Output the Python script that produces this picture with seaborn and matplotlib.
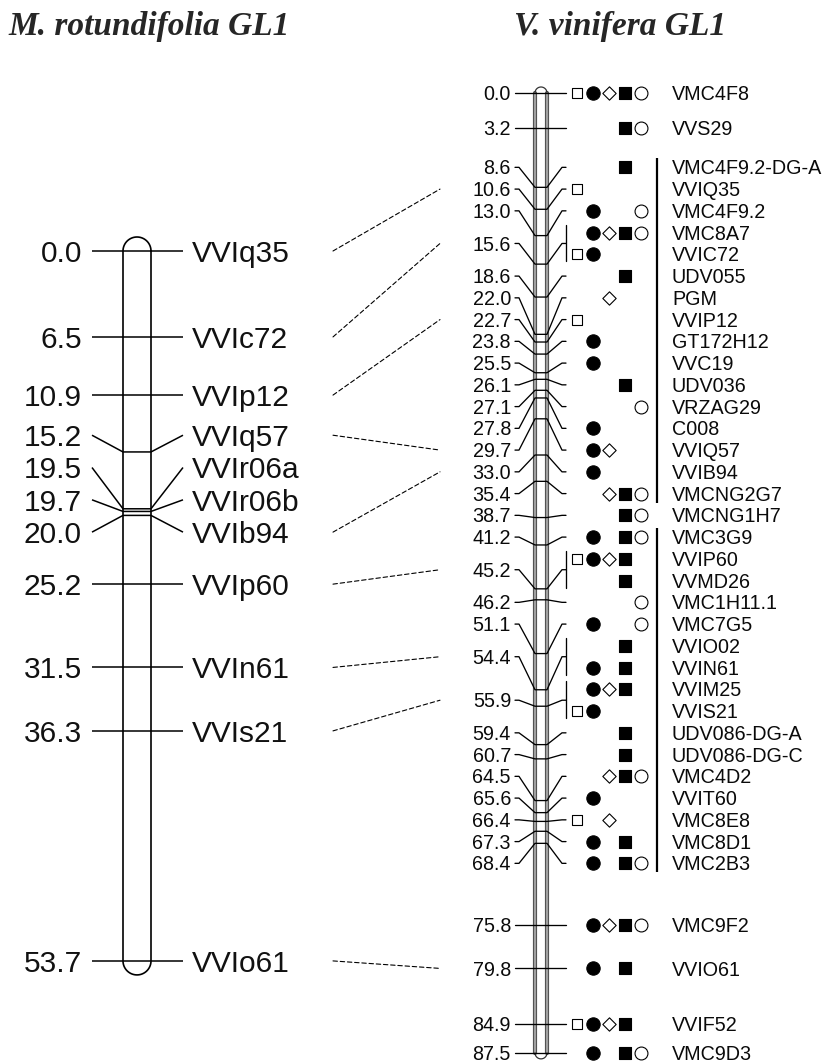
import numpy as np
import pandas as pd
import matplotlib
matplotlib.use("Agg")
import matplotlib.pyplot as plt
import matplotlib.patheffects as pe
from matplotlib.patches import ConnectionPatch
import seaborn as sns

# ---------------- data ----------------
left_title = "M. rotundifolia GL1"
right_title = "V. vinifera GL1"

left_markers = ["VVIq35", "VVIc72", "VVIp12", "VVIq57", "VVIr06a", "VVIr06b",
                "VVIb94", "VVIp60", "VVIn61", "VVIs21", "VVIo61"]
left_cm = [0.0, 6.5, 10.9, 15.2, 19.5, 19.7, 20.0, 25.2, 31.5, 36.3, 53.7]

right_markers = ["VMC4F8", "VVS29", "VMC4F9.2-DG-A", "VVIQ35", "VMC4F9.2", "VMC8A7",
                 "VVIC72", "UDV055", "PGM", "VVIP12", "GT172H12", "VVC19", "UDV036",
                 "VRZAG29", "C008", "VVIQ57", "VVIB94", "VMCNG2G7", "VMCNG1H7", "VMC3G9",
                 "VVIP60", "VVMD26", "VMC1H11.1", "VMC7G5", "VVIO02", "VVIN61", "VVIM25",
                 "VVIS21", "UDV086-DG-A", "UDV086-DG-C", "VMC4D2", "VVIT60", "VMC8E8",
                 "VMC8D1", "VMC2B3", "VMC9F2", "VVIO61", "VVIF52", "VMC9D3"]
right_cm = [0.0, 3.2, 8.6, 10.6, 13.0, 15.6,
            15.6, 18.6, 22.0, 22.7, 23.8, 25.5, 26.1,
            27.1, 27.8, 29.7, 33.0, 35.4, 38.7, 41.2,
            45.2, 45.2, 46.2, 51.1, 54.4, 54.4, 55.9,
            55.9, 59.4, 60.7, 64.5, 65.6, 66.4,
            67.3, 68.4, 75.8, 79.8, 84.9, 87.5]
# populations in which the marker was mapped:
# open square, filled circle, open diamond, filled square, open circle
right_pops = ["11111", "00011", "00010", "10000", "01001", "01111",
              "11000", "00010", "00100", "10000", "01000", "01000", "00010",
              "00001", "01000", "01100", "01000", "00111", "00011", "01011",
              "11110", "00010", "00001", "01001", "00010", "01010", "01110",
              "11000", "00010", "00010", "00111", "01000", "10100",
              "01010", "01011", "01111", "01010", "11110", "01011"]

right_groups = [("VMC4F9.2-DG-A", "VMCNG2G7"), ("VMC3G9", "VMC2B3")]

links = [("VVIq35", "VVIQ35"), ("VVIc72", "VVIC72"), ("VVIp12", "VVIP12"),
         ("VVIq57", "VVIQ57"), ("VVIb94", "VVIB94"), ("VVIp60", "VVIP60"),
         ("VVIn61", "VVIN61"), ("VVIs21", "VVIS21"), ("VVIo61", "VVIO61")]

# ---------------- layout ----------------
W, H = 823, 1063
L_TOP, L_SCALE = 251.0, 13.22     # pixel row of 0 cM, pixels per cM (left map)
R_TOP, R_SCALE = 93.0, 10.97      # right map
L_GAP = 32.3 / L_SCALE            # minimal label spacing (cM)
R_GAP = 21.75 / R_SCALE

sns.set_theme(style="white")
plt.rcParams["font.family"] = ["Liberation Sans", "DejaVu Sans"]

fig = plt.figure(figsize=(W / 100, H / 100), dpi=100)
fig.patch.set_facecolor("white")


def make_axes(top, scale):
    ax = fig.add_axes([0, 0, 1, 1])
    ax.set_xlim(0, W)
    ax.set_ylim((H - top) / scale, -top / scale)
    ax.axis("off")
    ax.patch.set_alpha(0)
    return ax


axL = make_axes(L_TOP, L_SCALE)
axR = make_axes(R_TOP, R_SCALE)


def spread(vals, gap):
    order = sorted(range(len(vals)), key=lambda i: vals[i])
    groups = [[i] for i in order]

    def place(g):
        c = (vals[g[0]] + vals[g[-1]]) / 2
        n = len(g)
        return [c + (k - (n - 1) / 2) * gap for k in range(n)]

    changed = True
    while changed:
        changed = False
        for j in range(len(groups) - 1):
            a, b = place(groups[j]), place(groups[j + 1])
            if b[0] - a[-1] < gap - 1e-9:
                groups[j] = groups[j] + groups[j + 1]
                del groups[j + 1]
                changed = True
                break
    out = [0.0] * len(vals)
    for g in groups:
        for i, y in zip(g, place(g)):
            out[i] = y
    return out


def capsule(x0, x1, top, bot, scale, n=40):
    r = (x1 - x0) / 2
    cx = (x0 + x1) / 2
    t = np.linspace(0, np.pi, n)
    xs = np.concatenate([cx + r * np.cos(t), cx - r * np.cos(t), [x1]])
    ys = np.concatenate([top - r * np.sin(t) / scale, bot + r * np.sin(t) / scale, [top]])
    return xs, ys


# ---------------- left map ----------------
LX_NUM, LX_L0, LX_B0, LX_B1, LX_R1, LX_NAME = 82, 92, 123, 151, 183, 192
L_FS = 21.5
L_BASE = 0.36 * L_FS / 0.72 / L_SCALE

xs, ys = capsule(LX_B0, LX_B1, min(left_cm), max(left_cm), L_SCALE)
axL.fill(xs, ys, color="white", zorder=1)
axL.plot(xs, ys, color="black", lw=1.2, zorder=3)

left_lab = spread(left_cm, L_GAP)
for name, cm, ly in zip(left_markers, left_cm, left_lab):
    axL.plot([LX_L0, LX_B0, LX_B1, LX_R1], [ly, cm, cm, ly], color="black", lw=1.1,
             zorder=4, solid_capstyle="butt")
    axL.text(LX_NUM, ly + L_BASE, f"{cm:.1f}", ha="right", va="baseline",
             fontsize=L_FS, color="#111111")
    axL.text(LX_NAME, ly + L_BASE, name, ha="left", va="baseline",
             fontsize=L_FS, color="#111111")

# ---------------- right map ----------------
RX_NUM, RX_L0, RX_B0, RX_B1, RX_R1, RX_NAME = 511, 515, 535, 547, 566, 672
RX_SYM0, RX_SYMD, RX_GROUP = 577, 15.9, 657
R_FS = 14.2
R_BASE = 0.36 * R_FS / 0.72 / R_SCALE

rmin, rmax = min(right_cm), max(right_cm)
for xb in (RX_B0, RX_B1):
    axR.plot([xb, xb], [rmin, rmax], color="#a0a0a0", lw=1.6, zorder=2,
             path_effects=[pe.Stroke(linewidth=3.0, foreground="#4a4a4a"), pe.Normal()])
r = (RX_B1 - RX_B0) / 2
t = np.linspace(0, np.pi, 30)
axR.plot((RX_B0 + RX_B1) / 2 + r * np.cos(t), rmin - r * np.sin(t) / R_SCALE,
         color="#333333", lw=0.9, zorder=2)
axR.plot((RX_B0 + RX_B1) / 2 + r * np.cos(t), rmax + r * np.sin(t) / R_SCALE,
         color="#333333", lw=0.9, zorder=2)

rows = spread(right_cm, R_GAP)
row_of = dict(zip(right_markers, rows))
uniq = sorted(set(right_cm))
for cm in uniq:
    ys_rows = [y for c, y in zip(right_cm, rows) if c == cm]
    ny = float(np.mean(ys_rows))
    axR.plot([RX_L0, RX_L0 + 4, RX_B0, RX_B1, RX_R1 - 4, RX_R1],
             [ny, ny, cm, cm, ny, ny], color="black", lw=0.95, zorder=4)
    axR.text(RX_NUM, ny + R_BASE, f"{cm:.1f}", ha="right", va="baseline",
             fontsize=R_FS, color="#0a0a0a")
    if len(ys_rows) > 1:
        axR.plot([RX_R1, RX_R1], [min(ys_rows) - 8 / R_SCALE, max(ys_rows) + 7 / R_SCALE],
                 color="black", lw=0.95, zorder=4)

for name, y in zip(right_markers, rows):
    axR.text(RX_NAME, y + R_BASE, name, ha="left", va="baseline",
             fontsize=R_FS, color="#0a0a0a")

sym_rows = []
for name, y, mask in zip(right_markers, rows, right_pops):
    for k, ch in enumerate(mask):
        if ch == "1":
            sym_rows.append({"x": RX_SYM0 + k * RX_SYMD, "y": y, "pop": k})
sym = pd.DataFrame(sym_rows)
styles = {0: dict(marker="s", s=62, facecolor="white"),
          1: dict(marker="o", s=92, facecolor="black"),
          2: dict(marker="D", s=46, facecolor="white"),
          3: dict(marker="s", s=74, facecolor="black"),
          4: dict(marker="o", s=86, facecolor="white")}
for k, st in styles.items():
    sub = sym[sym["pop"] == k]
    sns.scatterplot(data=sub, x="x", y="y", marker=st["marker"], s=st["s"],
                    facecolor=st["facecolor"], edgecolor="black", linewidth=0.8,
                    ax=axR, legend=False, zorder=5)

for a, b in right_groups:
    axR.plot([RX_GROUP, RX_GROUP], [row_of[a] - 9 / R_SCALE, row_of[b] + 9 / R_SCALE],
             color="black", lw=1.6, zorder=4, solid_capstyle="butt")

# ---------------- links ----------------
left_lab_of = dict(zip(left_markers, left_lab))
num_y_of = {}
for cm in uniq:
    num_y_of[cm] = float(np.mean([y for c, y in zip(right_cm, rows) if c == cm]))
rcm_of = dict(zip(right_markers, right_cm))
for a, b in links:
    con = ConnectionPatch(xyA=(333, left_lab_of[a]), coordsA=axL.transData,
                          xyB=(440, num_y_of[rcm_of[b]]), coordsB=axR.transData,
                          color="black", lw=0.8, linestyle=(0, (4, 2.5)))
    fig.add_artist(con)

for ax in (axL, axR):
    ax.set_xlim(0, W)
axL.set_ylim((H - L_TOP) / L_SCALE, -L_TOP / L_SCALE)
axR.set_ylim((H - R_TOP) / R_SCALE, -R_TOP / R_SCALE)

# ---------------- titles ----------------
fig.text(8 / W, 1 - 26 / H, left_title, ha="left", va="center", fontsize=24,
         family=["Liberation Serif", "DejaVu Serif"], weight="bold", style="italic")
fig.text(514 / W, 1 - 26 / H, right_title, ha="left", va="center", fontsize=24,
         family=["Liberation Serif", "DejaVu Serif"], weight="bold", style="italic")

fig.savefig("out.png", dpi=100, facecolor="white")
